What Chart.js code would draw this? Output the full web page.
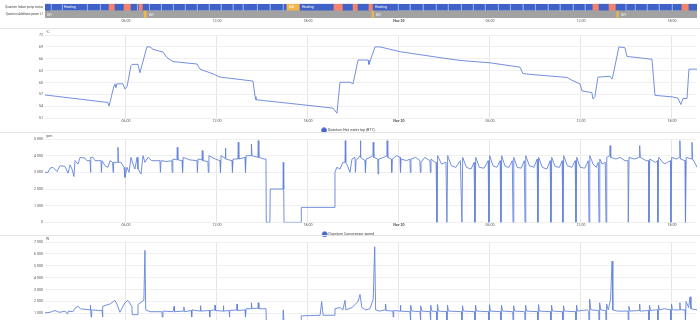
<!DOCTYPE html>
<html>
<head>
<meta charset="utf-8">
<script src="https://cdn.jsdelivr.net/npm/chart.js@4.4.0/dist/chart.umd.min.js"></script>
<style>
html, body { margin: 0; padding: 0; background: #fff; width: 700px; height: 320px; overflow: hidden; }
canvas { position: absolute; left: 0; }
.sep { position: absolute; left: 0; width: 700px; height: 0; border-top: 1px solid #e2e2e2; }
</style>
</head>
<body>
<canvas id="timeline" width="700" height="28" style="top:0"></canvas>
<canvas id="tempChart" width="700" height="112" style="top:30px"></canvas>
<canvas id="compChart" width="700" height="112" style="top:134px"></canvas>
<canvas id="powerChart" width="700" height="112" style="top:237px"></canvas>
<div class="sep" style="top:28px"></div>
<div class="sep" style="top:132px"></div>
<div class="sep" style="top:235px"></div>
<script>
// time axis in hours since Nov 19 00:00
const rangeStart = 0.66;
const rangeEnd = 43.65;
const hourTicks = [6, 12, 18, 24, 30, 36, 42];
const tickLabels = ['06:00', '12:00', '18:00', 'Nov 20', '06:00', '12:00', '18:00'];

const rowLabels = ['Quantum Indoor pump status', 'Quantum Additions power L1'];

const pumpStatus = [
    [0.66, 1.05, 'Heating'], [1.05, 1.78, 'Heating'], [1.78, 3.43, 'Heating'], [3.43, 4.29, 'Heating'],
    [4.29, 4.88, 'Heating'], [4.88, 5.27, 'Hot water'], [5.27, 5.87, 'Heating'], [5.87, 6.33, 'Hot water'],
    [6.33, 6.73, 'Heating'], [6.73, 6.86, 'Heating'], [6.86, 7.12, 'Hot water'], [7.12, 7.52, 'Heating'],
    [7.52, 8.31, 'Heating'], [8.31, 9.10, 'Heating'], [9.10, 9.89, 'Heating'], [9.89, 10.68, 'Heating'],
    [10.68, 11.47, 'Heating'], [11.47, 12.26, 'Heating'], [12.26, 13.05, 'Heating'], [13.05, 13.71, 'Heating'],
    [13.71, 14.64, 'Heating'], [14.64, 15.49, 'Heating'], [15.49, 16.35, 'Heating'], [16.35, 16.61, 'Heating'],
    [16.61, 17.47, 'Idle'], [17.47, 19.71, 'Heating'], [19.71, 20.31, 'Hot water'], [20.31, 20.97, 'Heating'],
    [20.97, 21.30, 'Hot water'], [21.30, 22.02, 'Heating'], [22.02, 22.29, 'Hot water'], [22.29, 23.93, 'Heating'],
    [23.93, 24.72, 'Heating'], [24.72, 25.58, 'Heating'], [25.58, 26.44, 'Heating'], [26.44, 27.23, 'Heating'],
    [27.23, 28.09, 'Heating'], [28.09, 28.88, 'Heating'], [28.88, 29.67, 'Heating'], [29.67, 30.53, 'Heating'],
    [30.53, 31.32, 'Heating'], [31.32, 32.17, 'Heating'], [32.17, 32.97, 'Heating'], [32.97, 33.82, 'Heating'],
    [33.82, 34.61, 'Heating'], [34.61, 35.47, 'Heating'], [35.47, 36.26, 'Heating'], [36.26, 36.79, 'Heating'],
    [36.79, 37.19, 'Hot water'], [37.19, 37.85, 'Heating'], [37.85, 38.31, 'Hot water'], [38.31, 38.95, 'Heating'],
    [38.95, 39.56, 'Heating'], [39.56, 40.35, 'Heating'], [40.35, 41.14, 'Heating'], [41.14, 42.00, 'Heating'],
    [42.00, 42.66, 'Heating'], [42.66, 43.12, 'Hot water'], [43.12, 43.65, 'Heating']
];

const additionPower = [
    [0.66, 7.19, 'Off'], [7.19, 7.38, 'On'], [7.38, 22.22, 'Off'], [22.22, 22.35, 'On'],
    [22.35, 38.37, 'Off'], [38.37, 38.50, 'On'], [38.50, 43.65, 'Off']
];

const stateColors = {
    'Heating': '#3f61c8',
    'Hot water': '#f3836b',
    'Idle': '#f4b64c',
    'Off': '#a2a2a2',
    'On': '#f4b64c'
};

// [hour, °C]
const hotWaterTemp = [
    [0.66, 56.9], [4.81, 55.0], [4.88, 54.1], [5.21, 59.2], [5.27, 59.7], [5.34, 58.7], [5.40, 59.7],
    [5.80, 59.7], [5.93, 58.4], [6.07, 59.0], [6.33, 64.3], [6.40, 64.6], [6.79, 64.6], [6.92, 62.5],
    [7.38, 69.0], [7.58, 69.0], [7.78, 68.4], [8.44, 67.7], [8.70, 66.3], [9.10, 65.3], [10.68, 64.7],
    [10.88, 63.4], [11.74, 62.2], [12.20, 61.4], [13.52, 60.8], [14.37, 60.4], [14.51, 56.5], [14.57, 55.7],
    [19.65, 53.6], [19.91, 52.3], [20.11, 60.1], [20.77, 60.1], [20.97, 59.7], [21.30, 65.7], [21.96, 65.7],
    [22.02, 64.6], [22.42, 69.0], [22.75, 69.0], [24.07, 67.8], [26.70, 66.3], [28.02, 65.6], [30.00, 65.0],
    [31.98, 63.9], [32.17, 62.3], [32.64, 62.1], [35.08, 61.3], [35.41, 60.6], [35.93, 59.7], [36.07, 57.9],
    [36.72, 57.5], [36.79, 55.9], [36.92, 56.5], [37.12, 61.4], [37.91, 61.6], [38.04, 60.9], [38.11, 61.8],
    [38.50, 69.0], [38.90, 68.8], [39.03, 66.6], [40.68, 65.9], [40.88, 56.8], [42.06, 56.4], [42.39, 56.1],
    [42.59, 54.5], [42.72, 56.0], [42.99, 56.0], [43.12, 63.4], [43.65, 63.4]
];

// [hour, rpm]
const compressorSpeed = [
    [0.66, 3000], [0.86, 3000], [0.99, 3250], [1.19, 3300], [1.45, 3050], [1.65, 3400], [1.98, 3350],
    [2.18, 2950], [2.31, 3450], [2.44, 3200], [2.57, 2750], [2.64, 3700], [2.84, 3500], [2.97, 3900],
    [3.30, 3850], [3.43, 3700], [3.63, 3700], [3.66, 3000], [3.69, 3900], [3.82, 3900], [3.96, 3700],
    [4.35, 3700], [4.38, 3000], [4.42, 3700], [4.62, 3400], [4.81, 3300], [4.95, 3700], [5.12, 3600],
    [5.15, 3000], [5.18, 3600], [5.45, 3600], [5.47, 4500], [5.51, 3600], [5.67, 3600], [5.87, 3300],
    [5.93, 2700], [6.07, 3300], [6.20, 3000], [6.33, 3900], [6.46, 3500], [6.59, 3200], [6.73, 3900],
    [6.79, 3200], [6.99, 2900], [7.12, 4000], [7.25, 3600], [7.45, 3900], [7.70, 3700], [8.24, 3700],
    [8.27, 3000], [8.31, 3700], [8.70, 3650], [9.02, 3700], [9.05, 3000], [9.09, 3800], [9.36, 3750],
    [9.38, 4500], [9.42, 3750], [9.70, 3700], [9.73, 3000], [9.77, 3900], [10.20, 3750], [10.68, 3700],
    [10.71, 3000], [10.75, 3800], [11.01, 3750], [11.03, 4300], [11.07, 3700], [11.40, 3650], [11.43, 3000],
    [11.47, 4000], [11.90, 3800], [12.20, 3700], [12.23, 3000], [12.27, 4000], [12.53, 3850], [12.55, 4450],
    [12.59, 3800], [12.99, 3700], [13.02, 3000], [13.06, 3800], [13.38, 3800], [13.40, 4800], [13.44, 3800],
    [13.85, 3900], [13.88, 3000], [13.92, 4000], [14.25, 4000], [14.27, 4700], [14.31, 4000], [14.70, 3900],
    [14.72, 4900], [14.76, 3900], [15.10, 3800], [15.23, 3800], [15.25, 0], [15.49, 0], [15.51, 2000],
    [16.35, 2000], [16.37, 3600], [16.40, 2000], [16.42, 0], [17.54, 0], [17.56, 900], [19.72, 900],
    [19.78, 3000], [19.90, 3300], [20.11, 3200], [20.30, 3600], [20.44, 3600], [20.46, 4900], [20.49, 3600],
    [20.60, 3400], [20.77, 3000], [20.90, 3800], [21.10, 3900], [21.13, 3000], [21.17, 3700], [21.43, 4000],
    [21.45, 4900], [21.49, 3900], [21.76, 3700], [21.79, 3000], [21.83, 3800], [22.09, 3900], [22.28, 4000],
    [22.30, 4800], [22.34, 3900], [22.60, 3800], [22.62, 2900], [22.66, 3800], [23.00, 3900], [23.20, 4000],
    [23.22, 4900], [23.26, 3900], [23.50, 3800], [23.52, 3000], [23.56, 3800], [23.85, 4000], [24.07, 3900],
    [24.10, 3000], [24.14, 3800], [24.50, 3700], [24.72, 3800], [24.75, 3000], [24.79, 3800], [25.10, 3900],
    [25.38, 3700], [25.41, 3000], [25.45, 3600], [25.70, 3900], [26.04, 3700], [26.07, 3000], [26.11, 3800],
    [26.40, 3600], [26.45, 3600], [26.50, 0], [26.55, 4000], [26.80, 3500], [27.10, 3600], [27.16, 0],
    [27.21, 4000], [27.45, 3400], [27.75, 3300], [28.05, 3700], [28.15, 0], [28.20, 3900], [28.45, 3300],
    [28.75, 3200], [28.95, 3600], [29.01, 0], [29.06, 3900], [29.30, 3300], [29.60, 3250], [29.88, 3700],
    [29.93, 0], [29.98, 4000], [30.20, 3400], [30.45, 3300], [30.67, 3700], [30.72, 0], [30.77, 4000],
    [31.00, 3350], [31.25, 3300], [31.47, 3700], [31.52, 0], [31.57, 3900], [31.80, 3300], [32.05, 3250],
    [32.26, 3700], [32.31, 0], [32.36, 4000], [32.60, 3400], [32.90, 3300], [33.11, 3800], [33.16, 0],
    [33.21, 3900], [33.45, 3300], [33.75, 3200], [33.97, 3700], [34.02, 0], [34.07, 3900], [34.30, 3350],
    [34.58, 3300], [34.76, 3700], [34.81, 0], [34.86, 4000], [35.10, 3400], [35.40, 3300], [35.62, 3700],
    [35.67, 0], [35.72, 3900], [35.95, 3300], [36.25, 3250], [36.48, 3700], [36.53, 0], [36.58, 4000],
    [36.80, 3500], [37.00, 3300], [37.14, 3600], [37.19, 0], [37.24, 3800], [37.40, 3500], [37.60, 3600],
    [37.65, 0], [37.70, 3900], [37.90, 4000], [37.92, 4600], [37.96, 3900], [38.30, 3800], [38.57, 3900],
    [38.90, 3700], [39.10, 3700], [39.12, 0], [39.17, 3900], [39.50, 3800], [39.85, 3900], [39.87, 4600],
    [39.91, 3900], [40.30, 3700], [40.46, 3700], [40.48, 0], [40.53, 3800], [40.90, 3600], [41.05, 3700],
    [41.07, 0], [41.12, 3900], [41.50, 3500], [41.90, 3700], [41.93, 0], [41.98, 3900], [42.30, 3800],
    [42.50, 3900], [42.52, 4900], [42.56, 3800], [42.86, 3700], [42.89, 0], [42.94, 3900], [43.30, 3800],
    [43.32, 4800], [43.36, 3800], [43.55, 3500], [43.65, 3300]
];

// [hour, W]
const powerUse = [
    [0.66, 1050], [0.99, 1100], [1.32, 1250], [1.50, 1150], [1.65, 1100], [1.98, 1200], [2.15, 950],
    [2.20, 1200], [2.50, 1150], [2.64, 1450], [2.84, 1600], [3.00, 1400], [3.63, 1300], [3.66, 1700],
    [3.70, 700], [3.74, 1300], [4.29, 1250], [4.42, 1250], [4.45, 700], [4.48, 1600], [4.95, 1800],
    [5.27, 2100], [5.40, 1800], [5.60, 1100], [5.93, 1900], [6.13, 2100], [6.39, 1600], [6.41, 900],
    [6.73, 900], [6.79, 1750], [7.05, 2000], [7.18, 2100], [7.25, 6300], [7.30, 1300], [7.58, 1150],
    [8.24, 1150], [8.37, 1150], [8.39, 700], [8.44, 1200], [9.10, 1150], [9.17, 1600], [9.20, 1150],
    [9.80, 1200], [9.82, 1550], [9.85, 1150], [10.30, 1250], [10.33, 700], [10.36, 1300], [10.90, 1200],
    [10.92, 1650], [10.95, 1200], [11.50, 1250], [11.52, 700], [11.55, 1250], [11.85, 1300], [11.87, 1700],
    [11.90, 1250], [12.40, 1200], [12.42, 1650], [12.45, 1200], [12.80, 1250], [12.82, 700], [12.85, 1250],
    [13.30, 1300], [13.32, 1800], [13.35, 1250], [13.85, 1300], [13.88, 700], [13.92, 1400], [14.25, 1400],
    [14.27, 1900], [14.31, 1400], [14.70, 1450], [14.72, 1900], [14.76, 1400], [15.23, 1400], [15.25, 400],
    [16.35, 400], [16.37, 1300], [16.42, 300], [17.54, 300], [17.56, 800], [18.80, 850], [18.90, 2000],
    [19.00, 850], [19.72, 850], [19.78, 1400], [20.11, 1500], [20.30, 1300], [20.44, 2100], [20.50, 1300],
    [20.90, 1500], [21.30, 2000], [21.43, 2600], [21.55, 1500], [21.80, 1300], [22.09, 1400], [22.30, 2200],
    [22.40, 6600], [22.46, 1300], [22.70, 1200], [23.10, 1300], [23.12, 1800], [23.15, 1250], [23.60, 1200],
    [23.62, 700], [23.65, 1250], [24.07, 1200], [24.09, 1700], [24.12, 1200], [24.73, 1150], [24.75, 300],
    [24.79, 1700], [24.85, 1200], [25.39, 1150], [25.41, 300], [25.45, 1650], [25.51, 1200], [26.05, 1150],
    [26.07, 300], [26.11, 1700], [26.17, 1200], [26.48, 1150], [26.50, 300], [26.54, 1750], [26.60, 1200],
    [27.14, 1150], [27.16, 300], [27.20, 1700], [27.26, 1200], [28.13, 1150], [28.15, 300], [28.19, 1650],
    [28.25, 1200], [28.99, 1150], [29.01, 300], [29.05, 1700], [29.11, 1200], [29.91, 1150], [29.93, 300],
    [29.97, 1750], [30.03, 1200], [30.70, 1150], [30.72, 300], [30.76, 1700], [30.82, 1200], [31.50, 1150],
    [31.52, 300], [31.56, 1650], [31.62, 1200], [32.29, 1150], [32.31, 300], [32.35, 1700], [32.41, 1200],
    [33.14, 1150], [33.16, 300], [33.20, 1750], [33.26, 1200], [34.00, 1150], [34.02, 300], [34.06, 1700],
    [34.12, 1200], [34.79, 1150], [34.81, 300], [34.85, 1650], [34.91, 1200], [35.65, 1150], [35.67, 300],
    [35.71, 1700], [35.77, 1200], [36.40, 1300], [36.51, 1200], [36.53, 300], [36.57, 2200], [36.65, 1300],
    [37.17, 1250], [37.19, 300], [37.23, 1900], [37.30, 1300], [37.63, 1250], [37.65, 300], [37.69, 1800],
    [37.80, 1300], [37.95, 2200], [38.05, 5400], [38.10, 1300], [38.40, 1200], [39.10, 1200], [39.12, 300],
    [39.16, 1600], [39.22, 1200], [39.85, 1250], [39.87, 1800], [39.90, 1200], [40.46, 1250], [40.48, 300],
    [40.52, 1700], [40.58, 1250], [40.90, 1300], [41.05, 1300], [41.07, 300], [41.11, 1700], [41.17, 1300],
    [41.50, 1400], [41.91, 1300], [41.93, 300], [41.97, 1800], [42.03, 1300], [42.50, 1300], [42.52, 1900],
    [42.56, 1300], [42.87, 1300], [42.89, 300], [42.93, 2000], [43.10, 1500], [43.19, 2400], [43.25, 1400],
    [43.65, 1300]
];

const lineColor = '#6483db';
const tickFont = { family: 'Roboto', size: 3.6 };

function timeAxis(height) {
    return {
        type: 'linear',
        min: rangeStart,
        max: rangeEnd,
        afterBuildTicks: scale => { scale.ticks = hourTicks.map(v => ({ value: v })); },
        afterFit: scale => { scale.height = height; },
        ticks: {
            callback: value => tickLabels[hourTicks.indexOf(value)],
            font: ctx => ({ family: 'Roboto', size: 3.6, weight: ctx.tick && ctx.tick.value === 24 ? 'bold' : 'normal' }),
            color: '#555',
            padding: 1,
            maxRotation: 0,
            autoSkip: false
        },
        border: { display: false }
    };
}

function thousands(value) {
    if (value < 1000) return String(value);
    return Math.floor(value / 1000) + ' ' + String(value % 1000).padStart(3, '0');
}

// unit shown at the top of the y axis
const unitLabel = {
    id: 'unitLabel',
    afterDraw(chart, args, opts) {
        const ctx = chart.ctx;
        ctx.save();
        ctx.font = '3.6px Roboto';
        ctx.fillStyle = '#555';
        ctx.textBaseline = 'middle';
        ctx.fillText(opts.text, chart.chartArea.left + 1, chart.chartArea.top - 2.5);
        ctx.restore();
    }
};

// state names written inside the timeline bars
const segmentText = {
    id: 'segmentText',
    afterDatasetsDraw(chart) {
        const ctx = chart.ctx;
        const meta = chart.getDatasetMeta(0);
        const raw = chart.data.datasets[0].data;
        ctx.save();
        ctx.font = '3.4px Roboto';
        ctx.fillStyle = '#fff';
        ctx.textBaseline = 'middle';
        meta.data.forEach((bar, i) => {
            const left = Math.min(bar.x, bar.base);
            const width = Math.abs(bar.x - bar.base);
            const text = raw[i].state;
            if (ctx.measureText(text).width + 4 < width) {
                ctx.fillText(text, left + 2, bar.y + 0.3);
            }
        });
        ctx.restore();
    }
};

const timelineData = [];
pumpStatus.forEach((s, i) => timelineData.push({ x: [s[0], s[1]], y: rowLabels[0], state: s[2], joined: i > 0 && pumpStatus[i - 1][2] === s[2] }));
additionPower.forEach(s => timelineData.push({ x: [s[0], s[1]], y: rowLabels[1], state: s[2], joined: false }));

new Chart(document.getElementById('timeline'), {
    type: 'bar',
    data: {
        labels: rowLabels,
        datasets: [{
            data: timelineData,
            backgroundColor: ctx => stateColors[ctx.raw.state],
            borderColor: '#a6d3f3',
            borderWidth: ctx => ctx.raw.joined ? { left: 1, right: 0, top: 0, bottom: 0 } : 0,
            borderSkipped: false,
            barThickness: 7,
            grouped: false
        }]
    },
    options: {
        indexAxis: 'y',
        responsive: false,
        animation: false,
        events: [],
        layout: { padding: { top: 2, right: 3, left: 0, bottom: 0 } },
        plugins: { legend: { display: false }, tooltip: { enabled: false } },
        scales: {
            x: Object.assign(timeAxis(10), { grid: { display: false, drawTicks: false } }),
            y: {
                type: 'category',
                grid: { display: false, drawTicks: false },
                border: { display: false },
                afterFit: scale => { scale.width = 45; },
                ticks: { font: { family: 'Roboto', size: 2.9 }, color: '#444', padding: 2 }
            }
        }
    },
    plugins: [segmentText]
});

function lineChart(id, series, label, unit, yMin, yMax, yStep, format) {
    new Chart(document.getElementById(id), {
        type: 'line',
        data: {
            datasets: [{
                label: label,
                data: series.map(p => ({ x: p[0], y: p[1] })),
                borderColor: lineColor,
                backgroundColor: '#4765c8',
                borderWidth: 0.9,
                pointRadius: 0,
                tension: 0
            }]
        },
        options: {
            responsive: false,
            animation: false,
            events: [],
            layout: { padding: { top: 5, right: 3, left: 0, bottom: 0 } },
            plugins: {
                legend: {
                    position: 'bottom',
                    labels: {
                        usePointStyle: true,
                        pointStyle: 'circle',
                        boxWidth: 5,
                        boxHeight: 5,
                        padding: 3,
                        font: tickFont,
                        color: '#444'
                    }
                },
                tooltip: { enabled: false },
                unitLabel: { text: unit }
            },
            scales: {
                x: Object.assign(timeAxis(7), { grid: { color: '#e6e6e6', drawTicks: false } }),
                y: {
                    min: yMin,
                    max: yMax,
                    afterFit: scale => { scale.width = 45; },
                    ticks: { stepSize: yStep, callback: format, font: tickFont, color: '#555', padding: 2 },
                    grid: { color: '#f0f0f0', drawTicks: false },
                    border: { display: false }
                }
            }
        },
        plugins: [unitLabel]
    });
}

lineChart('tempChart', hotWaterTemp, 'Quantum Hot water top (BT7)', '°C', 51, 72, 3, v => String(v));
lineChart('compChart', compressorSpeed, 'Quantum Compressor speed', 'rpm', 0, 5000, 1000, thousands);
lineChart('powerChart', powerUse, 'Quantum Power consumption', 'W', 0, 7000, 1000, thousands);
</script>
</body>
</html>
